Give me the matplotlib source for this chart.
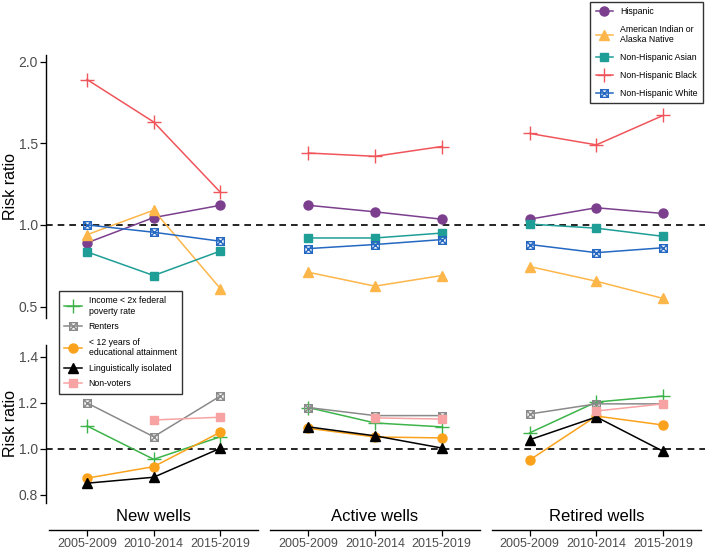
import matplotlib
matplotlib.use("Agg")
import matplotlib.pyplot as plt
import numpy as np
from matplotlib.path import Path
from matplotlib.lines import Line2D

plt.rcParams['font.family'] = ['Liberation Sans', 'DejaVu Sans']

# data
facets = ['New wells', 'Active wells', 'Retired wells']
periods = ['2005-2009', '2010-2014', '2015-2019']

race_names = ['Hispanic', 'American Indian or\nAlaska Native', 'Non-Hispanic Asian',
              'Non-Hispanic Black', 'Non-Hispanic White']
hispanic = [[0.89, 1.045, 1.12], [1.12, 1.08, 1.035], [1.035, 1.105, 1.07]]
aian = [[0.94, 1.09, 0.61], [0.71, 0.625, 0.69], [0.745, 0.655, 0.55]]
asian = [[0.835, 0.69, 0.84], [0.92, 0.92, 0.95], [1.005, 0.98, 0.93]]
black = [[1.89, 1.63, 1.20], [1.44, 1.42, 1.48], [1.56, 1.49, 1.67]]
white = [[1.00, 0.955, 0.90], [0.855, 0.88, 0.91], [0.88, 0.83, 0.86]]

ses_names = ['Income < 2x federal\npoverty rate', 'Renters', '< 12 years of\neducational attainment',
             'Linguistically isolated', 'Non-voters']
income = [[1.10, 0.955, 1.053], [1.18, 1.113, 1.096], [1.07, 1.204, 1.23]]
renters = [[1.20, 1.053, 1.23], [1.18, 1.145, 1.145], [1.152, 1.196, 1.196]]
education = [[0.873, 0.923, 1.073], [1.09, 1.052, 1.048], [0.952, 1.143, 1.104]]
linguistic = [[0.851, 0.877, 1.003], [1.096, 1.057, 1.004], [1.04, 1.139, 0.99]]
nonvoters = [[np.nan, 1.126, 1.138], [np.nan, 1.135, 1.13], [np.nan, 1.165, 1.196]]

# square with a cross inside
sqx = Path([(-1, -1), (1, -1), (1, 1), (-1, 1), (-1, -1), (-1, -1), (1, 1), (-1, 1), (1, -1)],
           [Path.MOVETO, Path.LINETO, Path.LINETO, Path.LINETO, Path.CLOSEPOLY,
            Path.MOVETO, Path.LINETO, Path.MOVETO, Path.LINETO])

race_style = [
    dict(color='#7B3F8E', marker='o', ms=6.5),
    dict(color='#FDB64A', marker='^', ms=7),
    dict(color='#1E9E96', marker='s', ms=6),
    dict(color='#F0555B', marker='+', ms=10, mew=1.0),
    dict(color='#2568C2', marker=sqx, ms=5.5, mfc='none', mew=1.0),
]
ses_style = [
    dict(color='#3DB44A', marker='+', ms=10, mew=1.0),
    dict(color='#8A8A8A', marker=sqx, ms=5.5, mfc='none', mew=1.0),
    dict(color='#FBA21C', marker='o', ms=6.5),
    dict(color='#000000', marker='^', ms=7),
    dict(color='#F7A3A3', marker='s', ms=6),
]

gap = 3.32
xlim = (-0.615, 9.27)
tick_col = '#4D4D4D'

fig = plt.figure(figsize=(7.09, 5.52), dpi=100)
ax_top = fig.add_axes([0.0649, 0.4239, 0.9295, 0.4764])
ax_bot = fig.add_axes([0.0649, 0.0888, 0.9295, 0.2862])
ax_x = fig.add_axes([0.0649, 0.0399, 0.9295, 0.0489])


def draw(ax, series, styles):
    for vals, st in zip(series, styles):
        for g in range(3):
            xs = [g * gap + i for i in range(3)]
            ax.plot(xs, vals[g], lw=1.1, **st)


draw(ax_top, [hispanic, aian, asian, black, white], race_style)
draw(ax_bot, [income, renters, education, linguistic, nonvoters], ses_style)

for ax, yl, yt in [(ax_top, (0.43, 2.04), [0.5, 1.0, 1.5, 2.0]),
                   (ax_bot, (0.765, 1.452), [0.8, 1.0, 1.2, 1.4])]:
    ax.axhline(1.0, color='black', ls=(0, (4, 3)), lw=1.2, zorder=0)
    ax.set_xlim(*xlim)
    ax.set_ylim(*yl)
    ax.set_yticks(yt)
    ax.set_yticklabels([f'{v:.1f}' for v in yt])
    ax.set_xticks([])
    for s in ['top', 'right', 'bottom']:
        ax.spines[s].set_visible(False)
    ax.spines['left'].set_linewidth(1.0)
    ax.tick_params(axis='y', length=4, width=0.9, labelsize=10, labelcolor=tick_col, pad=2)
    ax.patch.set_alpha(0)
    ax.set_ylabel('Risk ratio', fontsize=11.5)
    ax.yaxis.set_label_coords(-0.043, 0.5)

# facet axis strip
ax_x.set_xlim(*xlim)
ax_x.set_ylim(0, 1)
for s in ax_x.spines.values():
    s.set_visible(False)
ax_x.set_yticks([])
tick_pos = [g * gap + i for g in range(3) for i in range(3)]
ax_x.set_xticks(tick_pos)
ax_x.set_xticklabels(periods * 3)
ax_x.tick_params(axis='x', length=4, width=0.9, labelsize=9, labelcolor=tick_col, pad=2)
ax_x.patch.set_alpha(0)
for g, name in enumerate(facets):
    c = g * gap + 1
    ax_x.plot([c - 1.57, c + 1.57], [0, 0], color='black', lw=1.0, clip_on=False)
    ax_x.text(c, 0.5, name, ha='center', va='center', fontsize=12)

# legends
h_race = [Line2D([], [], lw=1.1, **st) for st in race_style]
leg1 = fig.legend(h_race, race_names, loc='upper right', bbox_to_anchor=(0.9915, 0.9964),
                  borderaxespad=0, fontsize=6.3, frameon=True, fancybox=False, edgecolor='black',
                  borderpad=0.6, labelspacing=1.0, handlelength=2.0, handletextpad=0.8)
leg1.get_frame().set_linewidth(1.0)

h_ses = [Line2D([], [], lw=1.1, **st) for st in ses_style]
leg2 = fig.legend(h_ses, ses_names, loc='upper left', bbox_to_anchor=(0.0832, 0.4728),
                  borderaxespad=0, fontsize=6.3, frameon=True, fancybox=False, edgecolor='black',
                  borderpad=0.6, labelspacing=0.75, handlelength=2.0, handletextpad=0.8)
leg2.get_frame().set_linewidth(1.0)

fig.savefig('out.png', dpi=100)
